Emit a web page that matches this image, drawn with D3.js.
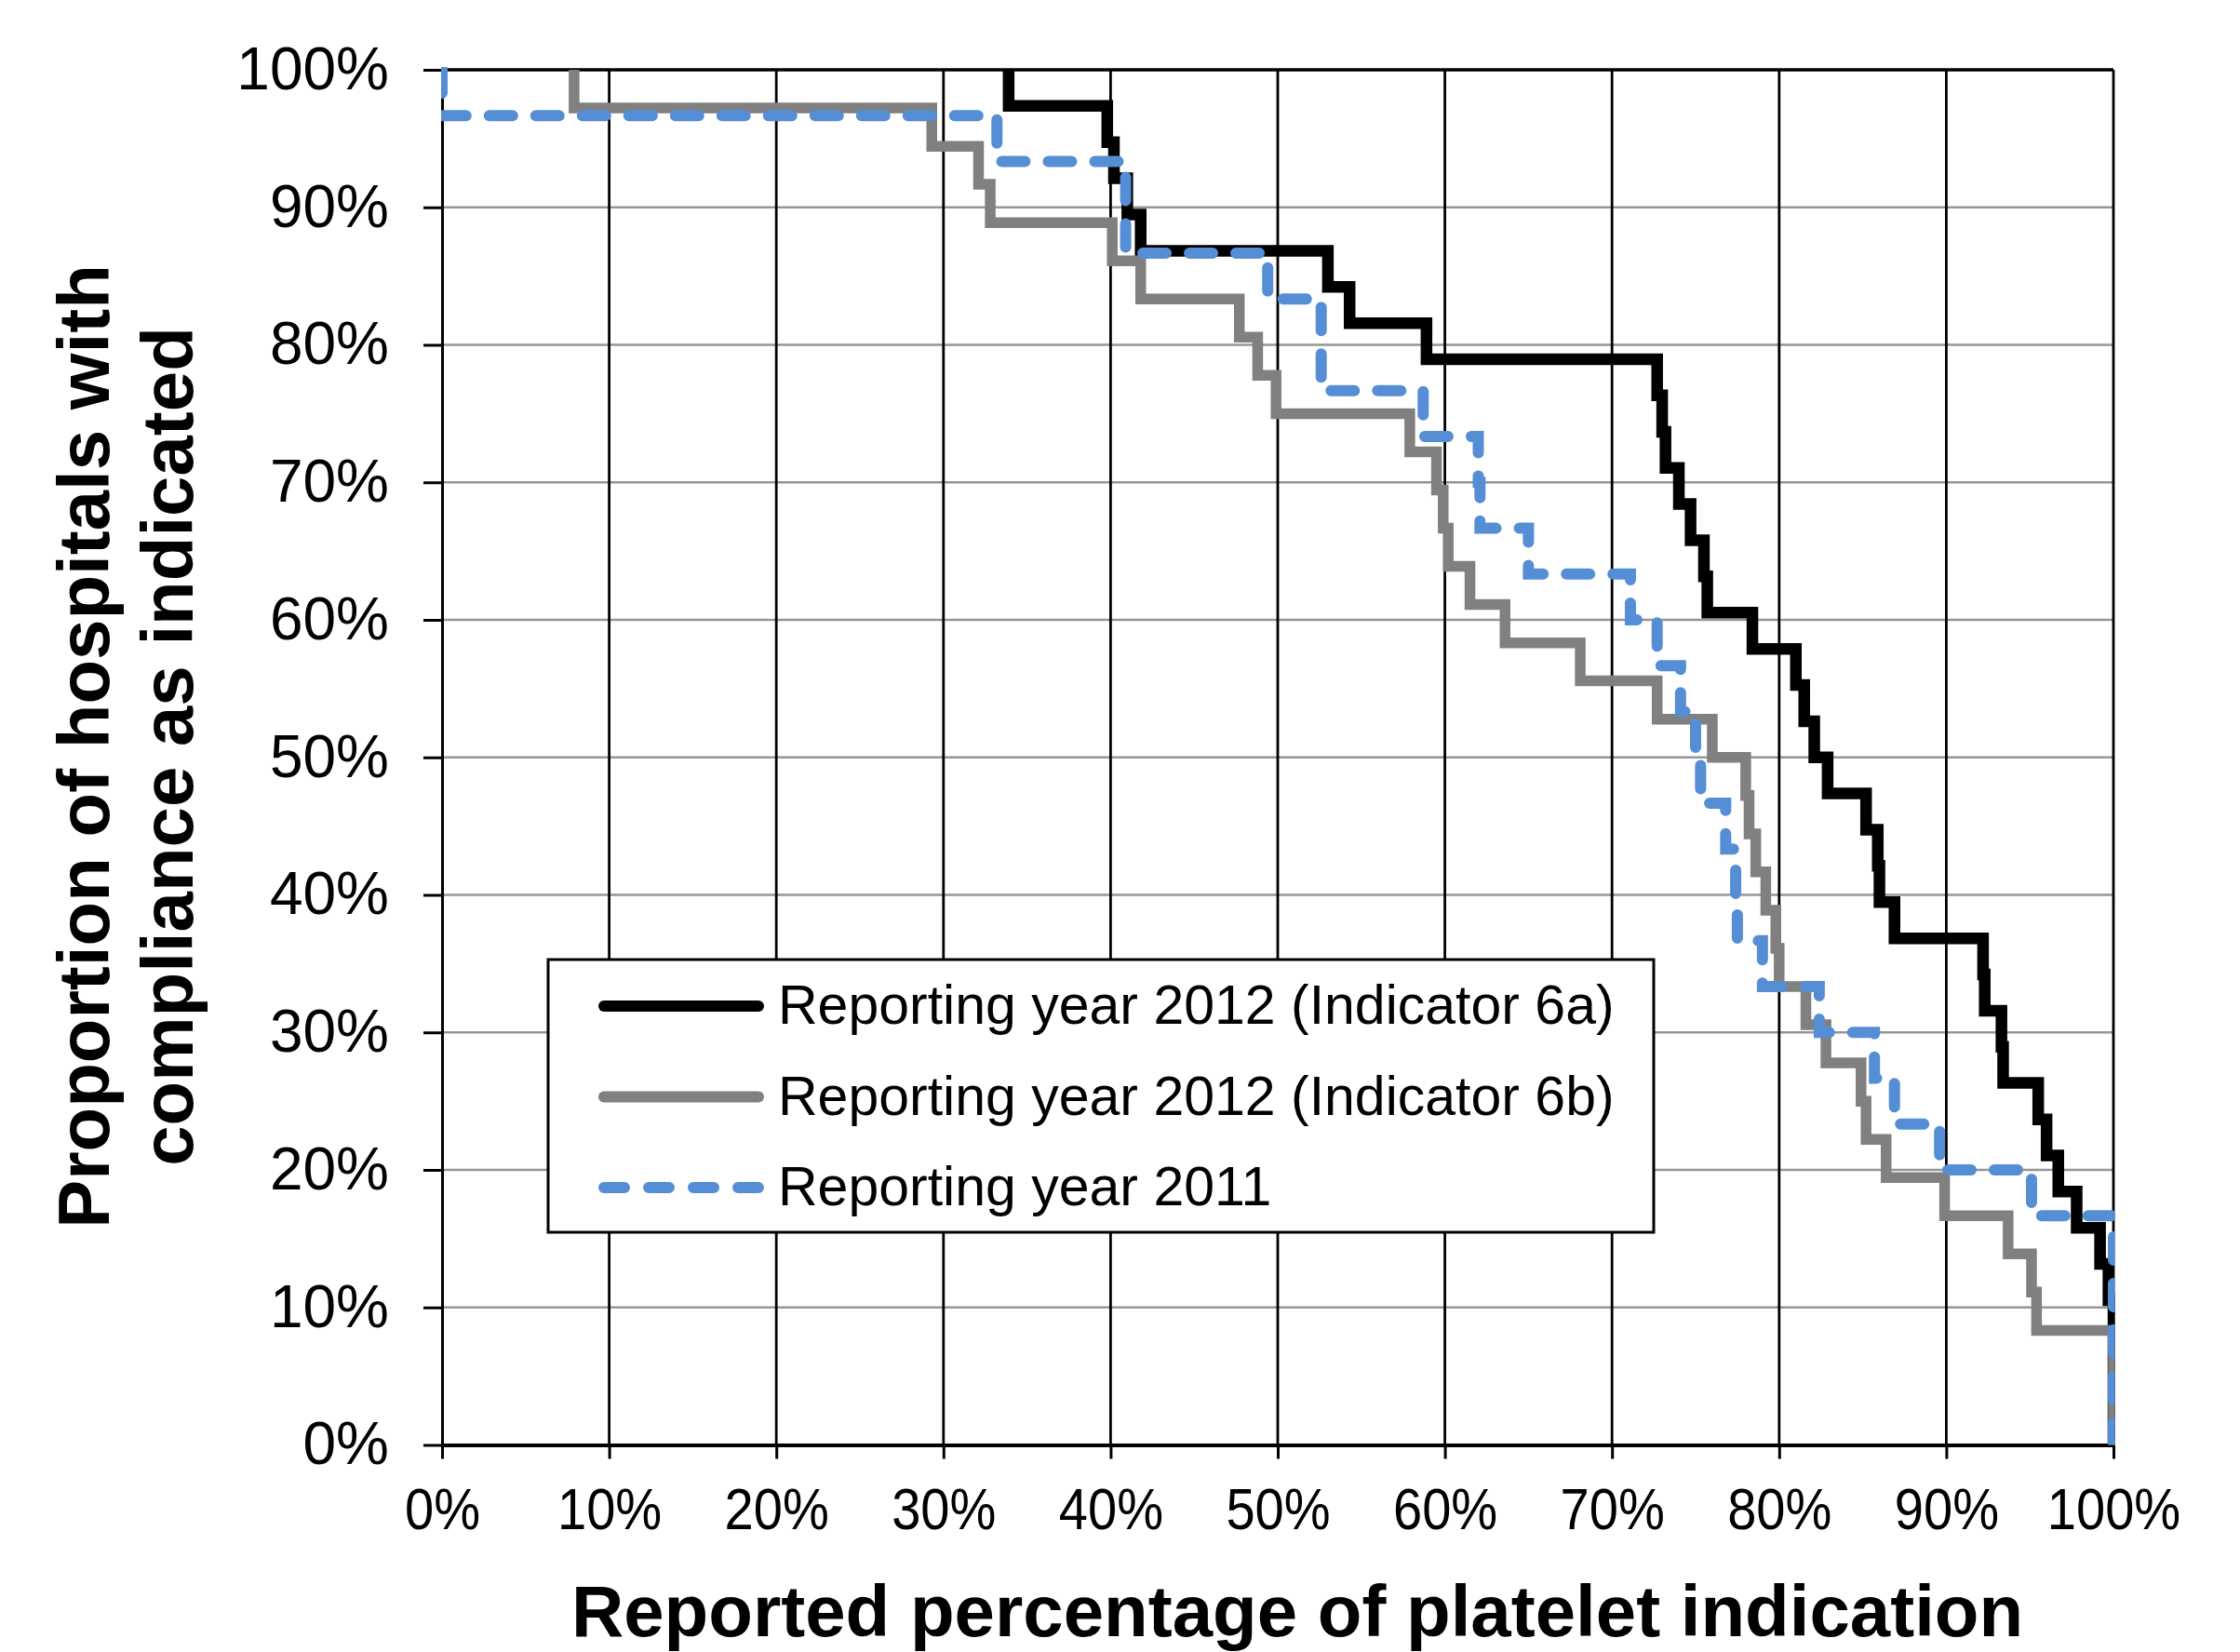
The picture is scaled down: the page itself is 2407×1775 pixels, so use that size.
<!DOCTYPE html>
<html>
<head>
<meta charset="utf-8">
<script src="https://cdn.jsdelivr.net/npm/d3@7/dist/d3.min.js"></script>
<style>
  body { margin: 0; background: #fff; }
  text { font-family: "Liberation Sans", Arial, sans-serif; fill: #000; }
</style>
</head>
<body>
<script>
// tick values (percent)
var xTicks = [0, 10, 20, 30, 40, 50, 60, 70, 80, 90, 100];
var yTicks = [0, 10, 20, 30, 40, 50, 60, 70, 80, 90, 100];

// [reported %, % of hospitals] step points
var indicator6a = [
  [33.9, 100], [33.9, 97.37], [39.8, 94.74], [40.2, 92.11], [41.0, 89.47], [41.8, 86.84],
  [53.0, 84.21], [54.3, 81.58], [58.9, 78.95], [72.7, 76.32], [73.0, 73.68], [73.2, 71.05],
  [74.0, 68.42], [74.7, 65.79], [75.5, 63.16], [75.7, 60.53], [78.4, 57.89], [81.0, 55.26],
  [81.5, 52.63], [82.1, 50.0], [82.9, 47.37], [85.2, 44.74], [85.9, 42.11], [86.0, 39.47],
  [86.9, 36.84], [92.2, 34.21], [92.3, 31.58], [93.3, 28.95], [93.4, 26.32], [95.5, 23.68],
  [96.0, 21.05], [96.7, 18.42], [97.8, 15.79], [99.2, 13.16], [99.7, 10.53], [100, 0]
];
var indicator6b = [
  [7.9, 100], [7.9, 97.22], [29.3, 94.44], [32.1, 91.67], [32.8, 88.89], [40.1, 86.11],
  [41.8, 83.33], [47.7, 80.56], [48.8, 77.78], [49.9, 75.0], [57.9, 72.22], [59.5, 69.44],
  [59.9, 66.67], [60.2, 63.89], [61.5, 61.11], [63.6, 58.33], [68.1, 55.56], [72.7, 52.78],
  [76.0, 50.0], [78.0, 47.22], [78.2, 44.44], [78.6, 41.67], [79.2, 38.89], [79.8, 36.11],
  [80.0, 33.33], [81.6, 30.56], [82.8, 27.78], [84.9, 25.0], [85.2, 22.22], [86.4, 19.44],
  [89.9, 16.67], [93.7, 13.89], [95.1, 11.11], [95.4, 8.33], [100, 0]
];
var year2011 = [
  [0, 100], [0, 96.67], [33.2, 93.33], [40.9, 86.67], [49.4, 83.33], [52.6, 76.67],
  [58.7, 73.33], [62.0, 70.0], [62.1, 66.67], [65.0, 63.33], [71.1, 60.0], [72.7, 56.67],
  [74.1, 53.33], [75.0, 50.0], [75.3, 46.67], [76.8, 43.33], [77.4, 40.0], [77.5, 36.67],
  [79.0, 33.33], [82.4, 30.0], [85.7, 26.67], [86.9, 23.33], [89.6, 20.0], [95.1, 16.67],
  [100, 0]
];
var seriesNames = [
  "Reporting year 2012 (Indicator 6a)",
  "Reporting year 2012 (Indicator 6b)",
  "Reporting year 2011"
];

var margin = { top: 75, right: 136, bottom: 222.5, left: 475 },
  width = 2407 - margin.left - margin.right,
  height = 1775 - margin.top - margin.bottom;

var x = d3.scaleLinear().domain([0, 100]).range([0, width]);
var y = d3.scaleLinear().domain([0, 100]).range([height, 0]);

var styles = [
  { color: "#000000", width: 12.5, dash: null, cap: "butt" },
  { color: "#808080", width: 11.5, dash: null, cap: "butt" },
  { color: "#558ed5", width: 12, dash: "25,25", cap: "round" }
];

var svg = d3.select("body").append("svg")
  .attr("width", 2407)
  .attr("height", 1775);

var chart = svg.append("g")
  .attr("transform", "translate(" + margin.left + "," + margin.top + ")");

// horizontal gridlines (grey)
chart.selectAll(".hgrid")
  .data(yTicks.filter(function (d) { return d > 0 && d < 100; }))
  .enter().append("line")
  .attr("class", "hgrid")
  .attr("x1", 0).attr("x2", width)
  .attr("y1", function (d) { return y(d); })
  .attr("y2", function (d) { return y(d); })
  .style("stroke", "#969696")
  .style("stroke-width", 2.7);

// vertical gridlines (black) incl. right border
chart.selectAll(".vgrid")
  .data(xTicks.filter(function (d) { return d > 0; }))
  .enter().append("line")
  .attr("class", "vgrid")
  .attr("x1", function (d) { return x(d); })
  .attr("x2", function (d) { return x(d); })
  .attr("y1", 0).attr("y2", height)
  .style("stroke", "#000")
  .style("stroke-width", 2.8);

// top border
chart.append("line")
  .attr("x1", 0).attr("x2", width)
  .attr("y1", y(100)).attr("y2", y(100))
  .style("stroke", "#000")
  .style("stroke-width", 3.5);

// axes
var yAxis = chart.append("g")
  .call(d3.axisLeft(y).tickValues(yTicks)
    .tickFormat(function (d) { return d + "%"; })
    .tickSize(20).tickSizeOuter(0).tickPadding(37));
yAxis.attr("font-family", null).attr("font-size", null);
yAxis.select(".domain").style("stroke-width", 3);
yAxis.selectAll(".tick line").style("stroke-width", 3);
yAxis.selectAll(".tick text").style("font-size", "64px");

var xAxis = chart.append("g")
  .attr("transform", "translate(0," + height + ")")
  .call(d3.axisBottom(x).tickValues(xTicks)
    .tickFormat(function (d) { return d + "%"; })
    .tickSize(15).tickSizeOuter(0).tickPadding(31));
xAxis.attr("font-family", null).attr("font-size", null);
xAxis.select(".domain").style("stroke-width", 4);
xAxis.selectAll(".tick line").style("stroke-width", 3);
xAxis.selectAll(".tick text")
  .style("font-size", "63px")
  .attr("transform", "scale(0.89,1)");

// series
chart.append("clipPath").attr("id", "plotclip")
  .append("rect")
  .attr("x", -1).attr("y", -3)
  .attr("width", width + 2.5).attr("height", height + 3);

var valueline = d3.line()
  .x(function (d) { return x(d[0]); })
  .y(function (d) { return y(d[1]); })
  .curve(d3.curveStepAfter);

var allSeries = [indicator6a, indicator6b, year2011];

chart.append("g")
  .attr("clip-path", "url(#plotclip)")
  .selectAll(".series")
  .data(allSeries)
  .enter().append("path")
  .attr("class", "series")
  .attr("d", valueline)
  .style("fill", "none")
  .style("stroke", function (d, i) { return styles[i].color; })
  .style("stroke-width", function (d, i) { return styles[i].width; })
  .style("stroke-dasharray", function (d, i) { return styles[i].dash; })
  .style("stroke-linecap", function (d, i) { return styles[i].cap; })
  .style("stroke-linejoin", "miter");

// axis titles
svg.append("text")
  .attr("x", 1394)
  .attr("y", 1758)
  .attr("text-anchor", "middle")
  .style("font-size", "78px")
  .style("font-weight", "bold")
  .text("Reported percentage of platelet indication");

var yTitle = ["Proportion of hospitals with", "compliance as indicated"];
svg.selectAll(".ytitle")
  .data(yTitle)
  .enter().append("text")
  .attr("class", "ytitle")
  .attr("text-anchor", "middle")
  .attr("transform", function (d, i) { return "translate(" + (117 + i * 90) + ",802) rotate(-90)"; })
  .style("font-size", "78px")
  .style("font-weight", "bold")
  .text(function (d) { return d; });

// legend
var legend = svg.append("g")
  .attr("transform", "translate(589,1031)");

legend.append("rect")
  .attr("width", 1188)
  .attr("height", 293)
  .style("fill", "#fff")
  .style("stroke", "#000")
  .style("stroke-width", 3);

var item = legend.selectAll(".legend")
  .data(seriesNames)
  .enter().append("g")
  .attr("class", "legend")
  .attr("transform", function (d, i) { return "translate(0," + (50 + i * 97.5) + ")"; });

item.append("line")
  .attr("x1", 60).attr("x2", 226)
  .style("stroke", function (d, i) { return styles[i].color; })
  .style("stroke-width", 12)
  .style("stroke-dasharray", function (d, i) { return styles[i].dash ? "22,26" : null; })
  .style("stroke-linecap", "round");

item.append("text")
  .attr("x", 247)
  .attr("y", 19)
  .style("font-size", "59px")
  .text(function (d) { return d; });
</script>
</body>
</html>
